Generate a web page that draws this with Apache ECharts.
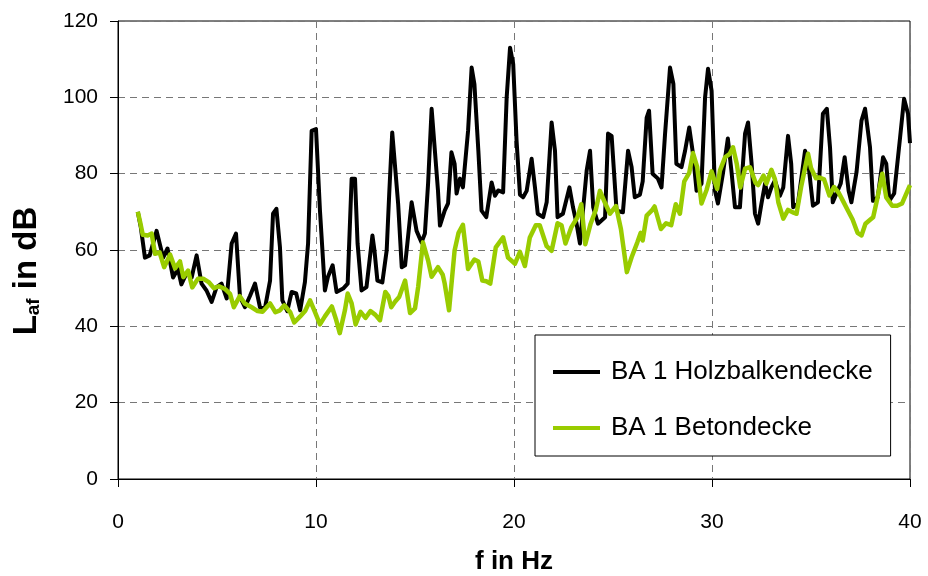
<!DOCTYPE html>
<html>
<head>
<meta charset="utf-8">
<script src="https://cdn.jsdelivr.net/npm/echarts@6/dist/echarts.min.js"></script>
<style>
html,body{margin:0;padding:0;background:#fff;}
#chart{width:928px;height:576px;}
</style>
</head>
<body>
<div id="chart"></div>
<script>
// Tick labels
var xTicks = [0, 10, 20, 30, 40];
var yTicks = [0, 20, 40, 60, 80, 100, 120];

// Series names
var seriesNames = ['BA 1 Holzbalkendecke', 'BA 1 Betondecke'];

// BA 1 Holzbalkendecke (black)
var holzFreq = [1.0,1.15,1.36,1.6,1.95,2.28,2.5,2.78,3.03,3.2,3.47,3.72,3.97,4.22,4.47,4.73,4.98,5.23,5.49,5.74,5.96,6.16,6.41,6.67,6.92,7.17,7.42,7.68,7.83,8.0,8.18,8.3,8.55,8.77,9.0,9.2,9.44,9.6,9.78,10.0,10.2,10.45,10.6,10.84,11.04,11.37,11.6,11.8,11.97,12.1,12.3,12.55,12.85,12.95,13.1,13.35,13.57,13.7,13.85,13.95,14.15,14.33,14.5,14.83,15.08,15.33,15.5,15.66,15.84,15.93,16.16,16.26,16.5,16.67,16.84,17.0,17.1,17.27,17.42,17.68,17.86,18.0,18.2,18.36,18.6,18.87,19.04,19.2,19.45,19.63,19.8,19.96,20.13,20.3,20.46,20.64,20.89,21.06,21.2,21.47,21.65,21.9,22.07,22.2,22.47,22.8,22.98,23.16,23.33,23.67,23.84,24.0,24.24,24.6,24.75,24.93,25.18,25.5,25.76,25.94,26.1,26.36,26.5,26.7,26.82,27.0,27.27,27.45,27.63,27.88,28.05,28.2,28.46,28.64,28.85,29.04,29.22,29.47,29.65,29.8,29.98,30.15,30.3,30.55,30.8,30.98,31.16,31.41,31.67,31.82,32.0,32.17,32.33,32.5,32.68,32.83,33.0,33.18,33.43,33.6,33.84,34.0,34.1,34.34,34.7,34.85,35.1,35.35,35.6,35.8,35.96,36.1,36.5,36.7,36.9,37.04,37.3,37.55,37.73,37.98,38.13,38.37,38.64,38.8,38.96,39.2,39.5,39.7,39.9,40.0];
var holzLevel = [70,66,58,58.6,65,58,60.4,52.8,55,51,54,52.8,58.6,51.2,49.4,46.4,50.3,51.2,47.3,61.7,64.3,47.7,45,48,51.2,45,44.7,52,69.5,70.8,60.7,46.8,44,49,48.6,44.2,51.6,61.7,91.2,91.7,70.3,49.4,52.9,56,49,49.9,51.2,78.7,78.7,61.7,49.4,50.3,63.8,60,52,51.5,59.9,75,90.8,90.5,72,55.5,56,72.5,65,62,64.3,77.3,97,96.5,75.6,66.4,70.3,72.2,85.6,82.6,74.8,78.7,76.4,91.2,107.8,103.5,86,70.3,68.6,77.7,74.2,75.6,75.1,100,113,108.7,88.6,74.5,73.8,75.5,83.9,76.4,69.5,68.6,72.5,93.4,86,68.6,69.5,76.4,71.2,66.9,61.7,80.8,86,71.2,66.9,68.6,90.5,89.9,70.3,69.9,86,81.7,73.8,74.5,78,94.7,96.5,80,78.7,76.4,90.5,107.8,103.5,82.6,81.7,86,92.1,85.2,75.5,77.4,100,107.5,101.7,75.5,72.2,80,89.2,80.8,71.2,71.2,90.5,93.4,82.6,69.5,66.9,72.2,77.4,73.8,76.4,78.2,74.2,76.4,89.9,82.6,71.2,72.2,86,83.4,71.6,72.5,95.7,97,86.9,72.5,77.4,84.3,75.5,72.5,80.4,93.9,97,86.9,72.9,73.8,84.3,82.6,72.9,74.8,89.5,99.6,95.7,88];

// BA 1 Betondecke (green)
var betonFreq = [1.0,1.12,1.25,1.5,1.7,1.87,2.1,2.33,2.63,2.88,3.13,3.3,3.54,3.75,4.04,4.3,4.6,4.85,5.1,5.4,5.66,5.85,6.15,6.4,6.57,6.75,7.05,7.3,7.68,7.95,8.18,8.4,8.7,8.9,9.2,9.45,9.7,9.95,10.2,10.45,10.8,11.0,11.2,11.46,11.6,11.8,12.0,12.25,12.5,12.75,13.0,13.23,13.5,13.65,13.8,14.0,14.2,14.5,14.75,15.0,15.16,15.4,15.5,15.66,15.84,16.16,16.4,16.5,16.72,17.0,17.2,17.42,17.68,18.0,18.2,18.4,18.6,18.8,19.08,19.45,19.7,20.05,20.3,20.55,20.8,21.1,21.3,21.4,21.65,21.9,22.2,22.4,22.6,22.9,23.2,23.4,23.6,23.87,24.13,24.34,24.6,24.85,25.15,25.25,25.4,25.7,25.94,26.23,26.4,26.5,26.7,26.95,27.1,27.42,27.68,27.94,28.17,28.38,28.6,28.85,29.04,29.25,29.47,29.73,29.98,30.26,30.4,30.66,30.9,31.06,31.25,31.43,31.67,31.92,32.2,32.33,32.6,32.75,33.0,33.18,33.35,33.6,33.84,34.15,34.27,34.5,34.85,35.0,35.25,35.4,35.66,35.93,36.16,36.4,36.6,36.85,37.1,37.35,37.55,37.75,38.0,38.14,38.35,38.6,38.8,39.1,39.35,39.6,40.0];
var betonLevel = [70,67.3,64,63.8,64.3,59,59.4,55.5,58.8,55.2,57,52.9,54.6,50.2,52.5,52.5,51.5,50,50.5,49.8,48.5,45,47.9,46,45.5,45,44,43.8,46,43.7,44.2,45.5,43.7,41,42.6,44,46.8,43.7,40.5,42.6,45.2,42,38.2,44.2,48.6,46,40.5,43.8,42.2,44,43,41.6,49,48,45,46.5,47.7,52,43.5,44.7,50.3,62,62.3,57.3,53,55.5,53.5,51.2,44.2,59.9,64.5,66.6,55,57.5,57,52,51.8,51.2,60.7,63.3,58,56.4,59.5,55.8,63.3,66.5,66.5,66,61,59.8,67,66.5,61.7,66,68.5,72,61.5,66.9,70.5,75.5,72.3,69.5,71.5,71.8,65.5,54.2,58.1,62,64.5,62.5,69,70.3,71.4,65.5,67,66.5,72,69.5,78,80.2,85.4,81.8,72.2,75.8,80.6,76,80.8,84.3,85.2,86.9,82.6,76.4,81.3,81.7,77.6,77,79.5,77.4,81,78.5,72.5,68.2,70.5,69.7,69.5,76.5,85.2,81.5,78.8,79,78.5,74.3,76.5,75,73,70.5,68,64.5,63.8,66.9,68,68.6,73.5,80,73.8,71.6,71.6,72.2,77];

// Axis titles
var xTitle = 'f in Hz';
var yTitle = '{m|L}{s|af}{m| in dB}';

function pairs(xs, ys) {
  var out = [];
  for (var i = 0; i < xs.length; i++) out.push([xs[i], ys[i]]);
  return out;
}

var chart = echarts.init(document.getElementById('chart'), null, {renderer: 'canvas'});
var font = 'Liberation Sans, Arial, sans-serif';

chart.setOption({
  animation: false,
  backgroundColor: '#ffffff',
  grid: {
    left: 118, right: 18, top: 21, bottom: 97,
    outerBoundsMode: 'none',
    containLabel: false,
    show: true, borderColor: '#000', borderWidth: 1, backgroundColor: 'transparent'
  },
  legend: {
    orient: 'vertical',
    left: 535, top: 335,
    padding: [22, 18, 13, 18],
    itemGap: 26,
    itemWidth: 47, itemHeight: 4,
    icon: 'rect',
    backgroundColor: '#fff',
    borderColor: '#000', borderWidth: 1, borderRadius: 0,
    textStyle: {fontFamily: font, fontSize: 26, lineHeight: 30, color: '#000', padding: [0, 0, 0, 6]},
    data: seriesNames
  },
  graphic: [{
    type: 'text',
    x: 27, y: 271,
    rotation: Math.PI / 2,
    style: {
      text: yTitle,
      align: 'center', verticalAlign: 'middle',
      rich: {
        m: {fontFamily: font, fontSize: 33, fontWeight: 'bold', fill: '#000', lineHeight: 36},
        s: {fontFamily: font, fontSize: 19, fontWeight: 'bold', fill: '#000', lineHeight: 36, padding: [14, 0, 0, 0]}
      }
    }
  }],
  xAxis: {
    type: 'value',
    min: xTicks[0], max: xTicks[xTicks.length - 1], interval: 10,
    name: xTitle,
    nameLocation: 'middle', nameGap: 70,
    nameTextStyle: {fontFamily: font, fontSize: 26, lineHeight: 26, fontWeight: 'bold', color: '#000'},
    axisLine: {lineStyle: {color: '#000', width: 1}},
    axisTick: {show: true, inside: false, length: 8, lineStyle: {color: '#000'}},
    axisLabel: {fontFamily: font, fontSize: 21, color: '#000', margin: 33},
    splitLine: {show: true, lineStyle: {color: '#777', type: [7, 5], width: 1}}
  },
  yAxis: {
    type: 'value',
    min: yTicks[0], max: yTicks[yTicks.length - 1], interval: 20,
    axisLine: {show: true, lineStyle: {color: '#000', width: 1}},
    axisTick: {show: true, inside: false, length: 8, lineStyle: {color: '#000'}},
    axisLabel: {fontFamily: font, fontSize: 21, color: '#000', margin: 20},
    splitLine: {show: true, lineStyle: {color: '#777', type: [7, 5], width: 1}}
  },
  series: [
    {
      name: seriesNames[0], type: 'line',
      data: pairs(holzFreq, holzLevel),
      symbol: 'none', smooth: false,
      lineStyle: {color: '#000000', width: 4, join: 'round'},
      itemStyle: {color: '#000000'}, z: 2
    },
    {
      name: seriesNames[1], type: 'line',
      data: pairs(betonFreq, betonLevel),
      symbol: 'none', smooth: false,
      lineStyle: {color: '#99CC00', width: 4.5, join: 'round'},
      itemStyle: {color: '#99CC00'}, z: 3
    }
  ]
});
</script>
</body>
</html>
